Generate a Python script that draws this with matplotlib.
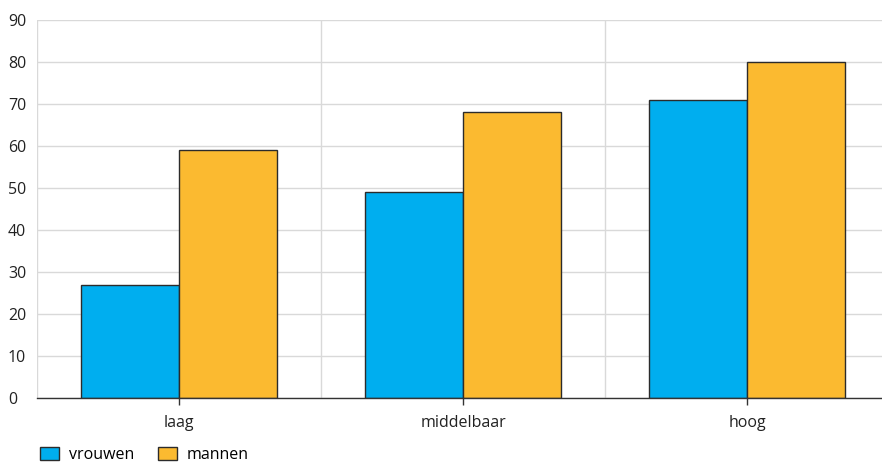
import matplotlib
matplotlib.use("Agg")
import matplotlib.pyplot as plt
from matplotlib.patches import Patch
import numpy as np

categories = ["laag", "middelbaar", "hoog"]
vrouwen = [27, 49, 71]
mannen = [59, 68, 80]
series_names = ["vrouwen", "mannen"]
yticks = [0, 10, 20, 30, 40, 50, 60, 70, 80, 90]

blue = "#00AEEF"
yellow = "#FBBA30"
edge = "#2b2b2b"

plt.rcParams['font.family'] = ['Open Sans', 'DejaVu Sans']

W, H = 882, 463
fig = plt.figure(figsize=(W/100, H/100), dpi=100)
ax = fig.add_axes([37/W, (H-398)/H, 852/W, 378/H])

x = np.arange(len(categories))
bw = 0.345
ax.bar(x - bw/2, vrouwen, bw, color=blue, edgecolor=edge, linewidth=1.0, zorder=3)
ax.bar(x + bw/2, mannen, bw, color=yellow, edgecolor=edge, linewidth=1.0, zorder=3)

ax.set_xlim(-0.5, 2.5)
ax.set_ylim(0, 90)
ax.set_yticks(yticks)
ax.set_yticklabels([str(v) for v in yticks])
ax.set_xticks(x)
ax.set_xticklabels(categories)

for s in ["top", "right", "left"]:
    ax.spines[s].set_visible(False)
ax.spines["bottom"].set_color("#333333")
ax.spines["bottom"].set_linewidth(1.0)
ax.spines["bottom"].set_zorder(4)

ax.yaxis.grid(True, color="#d9d9d9", linewidth=1.0, zorder=0)
for b in [-0.5, 0.5, 1.5]:
    ax.axvline(b, color="#d9d9d9", linewidth=1.0, zorder=0)

ax.tick_params(axis="y", length=0, pad=21, labelsize=11.5, labelcolor="#222222")
for lab in ax.get_yticklabels():
    lab.set_horizontalalignment("left")
ax.tick_params(axis="x", length=5, width=1, color="#333333", pad=7, labelsize=11.5, labelcolor="#222222")

handles = [Patch(facecolor=blue, edgecolor=edge, linewidth=1.0),
           Patch(facecolor=yellow, edgecolor=edge, linewidth=1.0)]
fig.legend(handles, series_names, loc="lower left", bbox_to_anchor=(29/W, -11/H),
           ncol=2, frameon=False, fontsize=11.5, handlelength=1.2, handleheight=0.9,
           handletextpad=0.6, columnspacing=1.5, borderaxespad=0.3)

fig.savefig("out.png", dpi=100)
